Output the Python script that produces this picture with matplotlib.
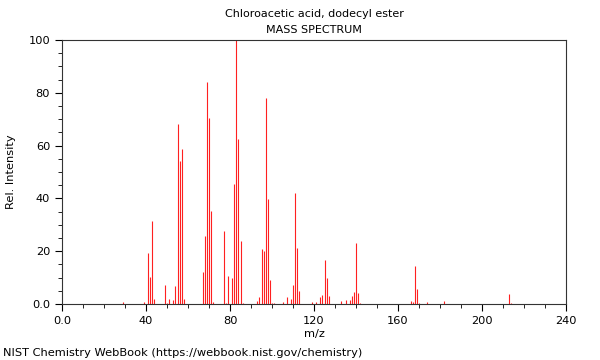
import matplotlib
matplotlib.use("Agg")
import matplotlib.pyplot as plt
from matplotlib.ticker import MultipleLocator, FixedFormatter, FixedLocator

# peaks: m/z and relative intensity
mz = [29, 39, 41, 42, 43, 44, 49, 50, 51, 53, 54, 55, 56, 57, 58,
      67, 68, 69, 70, 71, 72, 77, 78, 79, 81, 82, 83, 84, 85, 86,
      93, 94, 95, 96, 97, 98, 99, 100, 101, 105, 107, 109, 110, 111, 112, 113,
      119, 121, 123, 124, 125, 126, 127, 133, 135, 137, 138, 139, 140, 141, 142,
      166, 167, 168, 169, 170, 174, 182, 213, 214]
intensity = [0.7, 0.6, 19.2, 10.2, 31.6, 1.9, 7.2, 0.5, 1.8, 1.5, 6.9, 68.3, 54.3, 58.7, 1.8,
             12.2, 25.6, 84.2, 70.3, 35.2, 0.8, 27.5, 0.5, 10.6, 10.0, 45.5, 100.0, 62.5, 24.0, 0.5,
             1.3, 2.8, 21.0, 20.2, 78.0, 39.8, 9.0, 0.5, 0.5, 0.6, 2.5, 1.9, 7.2, 42.2, 21.2, 5.0,
             0.7, 0.6, 2.6, 3.4, 16.7, 9.8, 3.0, 1.1, 1.5, 1.5, 3.1, 4.5, 23.1, 4.0, 0.5,
             1.1, 0.6, 14.4, 5.7, 0.5, 0.8, 1.2, 3.8, 0.5]

title = "Chloroacetic acid, dodecyl ester"
subtitle = "MASS SPECTRUM"
credit = "NIST Chemistry WebBook (https://webbook.nist.gov/chemistry)"
xticks = [0, 40, 80, 120, 160, 200, 240]
xticklabels = ["0.0", "40", "80", "120", "160", "200", "240"]
yticks = [0, 20, 40, 60, 80, 100]
yticklabels = ["0.0", "20", "40", "60", "80", "100"]

plt.rcParams["font.family"] = "DejaVu Sans"
plt.rcParams["font.size"] = 8

fig = plt.figure(figsize=(6, 3.6), dpi=100)
ax = fig.add_axes([62 / 600, 1 - 304 / 360, 504 / 600, 264 / 360])

ax.vlines(mz, 0, intensity, colors="#ff2020", linewidth=0.8)

ax.set_xlim(0, 240)
ax.set_ylim(0, 100)
ax.xaxis.set_major_locator(FixedLocator(xticks))
ax.xaxis.set_major_formatter(FixedFormatter(xticklabels))
ax.xaxis.set_minor_locator(MultipleLocator(10))
ax.yaxis.set_major_locator(FixedLocator(yticks))
ax.yaxis.set_major_formatter(FixedFormatter(yticklabels))
ax.yaxis.set_minor_locator(MultipleLocator(5))
ax.tick_params(which="major", length=5, width=0.8, direction="out", labelsize=8.2)
ax.tick_params(which="minor", length=3, width=0.6, direction="out")
for s in ax.spines.values():
    s.set_linewidth(0.8)
    s.set_color("#333333")

ax.set_xlabel("m/z", fontsize=8.2, labelpad=2)
ax.set_ylabel("Rel. Intensity", fontsize=8.2, labelpad=9)

cx = (62 + 566) / 2 / 600
fig.text(cx, 1 - 14 / 360, title, ha="center", va="center", fontsize=8)
fig.text(cx, 1 - 30 / 360, subtitle, ha="center", va="center", fontsize=8)
fig.text(3 / 600, 1 - 353 / 360, credit, ha="left", va="center", fontsize=8.2)

fig.savefig("out.png", dpi=100)
